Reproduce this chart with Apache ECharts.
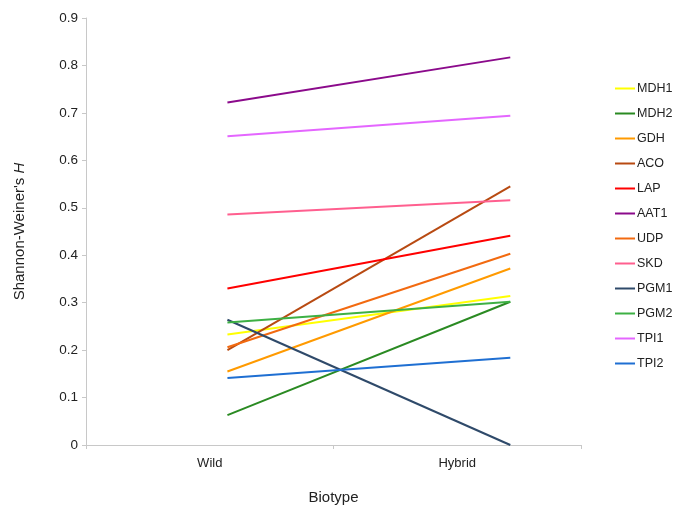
<!DOCTYPE html>
<html><head><meta charset="utf-8">
<script src="https://cdn.jsdelivr.net/npm/echarts@6/dist/echarts.min.js"></script>
<style>html,body{margin:0;padding:0;background:#fff;overflow:hidden}#c{width:675px;height:506px}</style>
</head><body><div id="c"></div>
<script>
const categories = ['Wild', 'Hybrid'];
const names = ['MDH1','MDH2','GDH','ACO','LAP','AAT1','UDP','SKD','PGM1','PGM2','TPI1','TPI2'];
const MDH1 = [0.233, 0.314];
const MDH2 = [0.063, 0.302];
const GDH  = [0.155, 0.372];
const ACO  = [0.200, 0.545];
const LAP  = [0.330, 0.441];
const AAT1 = [0.722, 0.817];
const UDP  = [0.206, 0.403];
const SKD  = [0.486, 0.516];
const PGM1 = [0.264, 0.000];
const PGM2 = [0.258, 0.302];
const TPI1 = [0.651, 0.694];
const TPI2 = [0.141, 0.184];
const yTicks = [0, 0.1, 0.2, 0.3, 0.4, 0.5, 0.6, 0.7, 0.8, 0.9];
const values = [MDH1, MDH2, GDH, ACO, LAP, AAT1, UDP, SKD, PGM1, PGM2, TPI1, TPI2];
const colors = ['#FFFF00','#2A8A22','#FF9A00','#B84A12','#FF0000','#8B0A8B','#F26A10','#FF5F8F','#2F4A6A','#3DB044','#E466FF','#1F6FD2'];

const el = document.getElementById('c');
const chart = echarts.init(el);
const font = 'Liberation Sans, Arial, sans-serif';
chart.setOption({
  animation: false,
  grid: { left: 86, width: 495, top: 18, height: 427, outerBoundsMode: 'none', containLabel: false },
  legend: {
    orient: 'vertical', left: 610, top: 77,
    icon: 'rect', itemWidth: 20, itemHeight: 2, itemGap: 12,
    textStyle: { fontFamily: font, fontSize: 12.5, color: '#222', padding: [0,0,0,-3] },
    data: names
  },
  xAxis: [{
    type: 'category', data: categories, boundaryGap: true,
    axisLine: { lineStyle: { color: '#c8c8c8' } },
    axisTick: { show: true, length: 4, lineStyle: { color: '#c8c8c8' } },
    axisLabel: { fontFamily: font, fontSize: 13, color: '#222', margin: 12 },
    name: 'Biotype', nameLocation: 'middle', nameGap: 45,
    nameTextStyle: { fontFamily: font, fontSize: 15, color: '#222' }
  }, {
    type: 'value', min: -0.5, max: 1.25, show: false
  }],
  yAxis: {
    type: 'value', min: 0, max: 0.9, interval: 0.1,
    axisLine: { show: true, onZero: false, lineStyle: { color: '#c8c8c8' } },
    axisTick: { show: true, length: 4, lineStyle: { color: '#c8c8c8' } },
    splitLine: { show: false },
    axisLabel: { fontFamily: font, fontSize: 13.5, color: '#222', margin: 8,
      formatter: v => { const t = yTicks.find(x => Math.abs(x - v) < 1e-9); return t === 0 ? '0' : (t !== undefined ? t.toFixed(1) : ''); } },
    name: "{a|Shannon-Weiner's }{b|H}", nameLocation: 'middle', nameGap: 59, nameRotate: 90,
    nameTextStyle: { rich: {
      a: { fontFamily: font, fontSize: 15, color: '#222' },
      b: { fontFamily: font, fontSize: 15, color: '#222', fontStyle: 'italic' } } }
  },
  series: names.map((n, i) => ({
    name: n, type: 'line', xAxisIndex: 1,
    data: values[i].map((v, j) => [j, v]),
    showSymbol: false, symbol: 'none',
    lineStyle: { width: 2, color: colors[i] }, itemStyle: { color: colors[i] }
  }))
});
</script></body></html>
